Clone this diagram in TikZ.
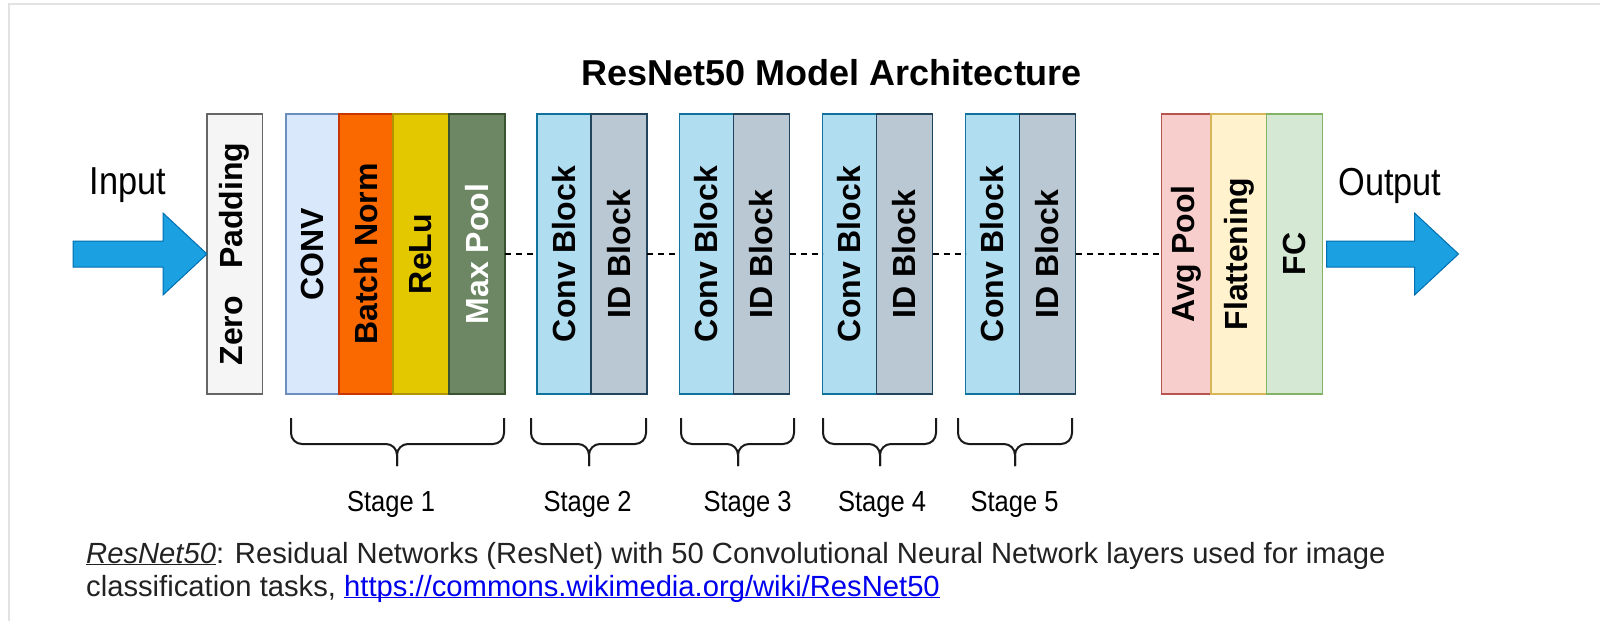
\documentclass[tikz,border=0pt]{standalone}
\usepackage{fontspec}
\setmainfont{Liberation Sans}
\newfontfamily\narrowfont[FakeStretch=0.88]{Liberation Sans}
\usetikzlibrary{positioning}

\definecolor{zpfill}{HTML}{F5F5F5}
\definecolor{zpline}{HTML}{666666}
\definecolor{convfill}{HTML}{DAE8FC}
\definecolor{convline}{HTML}{6C8EBF}
\definecolor{bnfill}{HTML}{FA6800}
\definecolor{bnline}{HTML}{C73500}
\definecolor{relufill}{HTML}{E3C800}
\definecolor{reluline}{HTML}{B09500}
\definecolor{mpfill}{HTML}{6D8764}
\definecolor{mpline}{HTML}{3A5431}
\definecolor{cbfill}{HTML}{B1DDF0}
\definecolor{cbline}{HTML}{10739E}
\definecolor{idfill}{HTML}{BAC8D3}
\definecolor{idline}{HTML}{23445D}
\definecolor{apfill}{HTML}{F8CECC}
\definecolor{apline}{HTML}{B85450}
\definecolor{flfill}{HTML}{FFF2CC}
\definecolor{flline}{HTML}{D6B656}
\definecolor{fcfill}{HTML}{D5E8D4}
\definecolor{fcline}{HTML}{82B366}
\definecolor{arrfill}{HTML}{1BA1E2}
\definecolor{arrline}{HTML}{006EAF}
\definecolor{framegray}{HTML}{E2E2E2}
\definecolor{linkblue}{HTML}{0000EE}
\definecolor{captext}{HTML}{222222}

\begin{document}
\begin{tikzpicture}[x=1pt, y=-1pt]
        \tikzstyle{layer}=[draw, outer sep=0pt, inner sep=0pt, line width=1.3pt, minimum height=280pt, minimum width=54pt, font=\fontsize{32}{38}\selectfont\bfseries]
        \tikzstyle{skipline}=[dashed, dash pattern=on 6pt off 5pt, line width=2pt]
        \tikzstyle{bigarrow}=[fill=arrfill, draw=arrline, line width=1pt, line join=miter]
        \tikzstyle{stagebrace}=[line width=2pt, rounded corners=11pt, black!90]
        \tikzstyle{stagelbl}=[anchor=base, inner sep=0pt, font=\narrowfont\fontsize{29}{33}\selectfont]
        \tikzstyle{iolbl}=[anchor=base, inner sep=0pt, font=\narrowfont\fontsize{39}{44}\selectfont]
        \tikzstyle{caption}=[anchor=base west, inner sep=0pt, text=captext, font=\fontsize{29.2}{33}\selectfont]
        \useasboundingbox (0,0) rectangle (1600,621);

        % Frame
        \draw[framegray, line width=2.5pt] (1600,4) -- (9,4) -- (9,621);

        % Title
        \node[anchor=base, inner sep=0pt, font=\fontsize{36}{42}\selectfont\bfseries] (title) at (832,85) {ResNet50 Model Architecture};

        % Zero padding
        \node[layer, fill=zpfill, draw=zpline, minimum width=55.5pt, anchor=north west] (zp) at (207,114) {\rotatebox{90}{Zero\hspace{0.85em}Padding}};

        % Stage 1
        \node[layer, fill=convfill, draw=convline, minimum width=53pt, right=23.5pt of zp] (conv) {\rotatebox{90}{CONV}};
        \node[layer, fill=bnfill, draw=bnline, right=0pt of conv] (bn) {\rotatebox{90}{Batch Norm}};
        \node[layer, fill=relufill, draw=reluline, minimum width=56pt, right=0pt of bn] (relu) {\rotatebox{90}{ReLu}};
        \node[layer, fill=mpfill, draw=mpline, text=white, minimum width=56pt, right=0pt of relu] (mp) {\rotatebox{90}{Max Pool}};

        % Stage 2
        \node[layer, fill=cbfill, draw=cbline, right=32pt of mp] (cb2) {\rotatebox{90}{Conv Block}};
        \node[layer, fill=idfill, draw=idline, minimum width=56pt, right=0pt of cb2] (id2) {\rotatebox{90}{ID Block}};

        % Stage 3
        \node[layer, fill=cbfill, draw=cbline, right=32.5pt of id2] (cb3) {\rotatebox{90}{Conv Block}};
        \node[layer, fill=idfill, draw=idline, minimum width=56pt, right=0pt of cb3] (id3) {\rotatebox{90}{ID Block}};

        % Stage 4
        \node[layer, fill=cbfill, draw=cbline, right=33pt of id3] (cb4) {\rotatebox{90}{Conv Block}};
        \node[layer, fill=idfill, draw=idline, minimum width=56pt, right=0pt of cb4] (id4) {\rotatebox{90}{ID Block}};

        % Stage 5
        \node[layer, fill=cbfill, draw=cbline, right=33pt of id4] (cb5) {\rotatebox{90}{Conv Block}};
        \node[layer, fill=idfill, draw=idline, minimum width=56pt, right=0pt of cb5] (id5) {\rotatebox{90}{ID Block}};

        % Head
        \node[layer, fill=apfill, draw=apline, minimum width=49.6pt, right=86pt of id5] (ap) {\rotatebox{90}{Avg Pool}};
        \node[layer, fill=flfill, draw=flline, minimum width=55.4pt, right=0pt of ap] (fl) {\rotatebox{90}{Flattening}};
        \node[layer, fill=fcfill, draw=fcline, minimum width=56pt, right=0pt of fl] (fc) {\rotatebox{90}{FC}};

        % Dashed links between stages
        \draw[skipline] (mp) -- (cb2);
        \draw[skipline] (id2) -- (cb3);
        \draw[skipline] (id3) -- (cb4);
        \draw[skipline] (id4) -- (cb5);
        \draw[skipline] (id5) -- (ap);

        % Input / output arrows
        \node[iolbl] (inlbl) at (128,194) {Input};
        \draw[bigarrow] (zp.west) -- ++(-44,-41) -- ++(0,28) -- ++(-90,0) -- ++(0,26) -- ++(90,0) -- ++(0,28) -- cycle;
        \node[iolbl] (outlbl) at (1390,195) {Output};
        \draw[bigarrow] ([xshift=4pt]fc.east) -- ++(0,-13) -- ++(88,0) -- ++(0,-28) -- ++(44,41) -- ++(-44,41) -- ++(0,-28) -- ++(-88,0) -- cycle;

        % Stage braces
        \draw[stagebrace] (291,418) |- (397,444) -- (397,466);
        \draw[stagebrace] (504,418) |- (397,444) -- (397,466);
        \draw[stagebrace] (531,418) |- (589,444) -- (589,466);
        \draw[stagebrace] (646,418) |- (589,444) -- (589,466);
        \draw[stagebrace] (681,418) |- (738,444) -- (738,466);
        \draw[stagebrace] (794,418) |- (738,444) -- (738,466);
        \draw[stagebrace] (823,418) |- (880,444) -- (880,466);
        \draw[stagebrace] (936,418) |- (880,444) -- (880,466);
        \draw[stagebrace] (958,418) |- (1015,444) -- (1015,466);
        \draw[stagebrace] (1072,418) |- (1015,444) -- (1015,466);

        % Stage labels
        \node[stagelbl] (st1) at (391,511) {Stage 1};
        \node[stagelbl] (st2) at (587.5,511) {Stage 2};
        \node[stagelbl] (st3) at (747.5,511) {Stage 3};
        \node[stagelbl] (st4) at (882,511) {Stage 4};
        \node[stagelbl] (st5) at (1014.5,511) {Stage 5};

        % Caption
        \node[caption] (cap1) at (86,563) {\underline{\textit{ResNet50}}: Residual Networks (ResNet) with 50 Convolutional Neural Network layers used for image};
        \node[caption] (cap2) at (86,596) {classification tasks, \textcolor{linkblue}{\underline{\smash{https://commons.wikimedia.org/wiki/ResNet50}}}};
    \end{tikzpicture}
\end{document}
